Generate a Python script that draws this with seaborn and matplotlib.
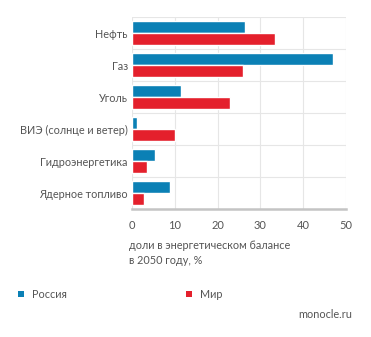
import matplotlib
matplotlib.use("Agg")
import matplotlib.pyplot as plt
from matplotlib.patches import Rectangle
import seaborn as sns
import pandas as pd

categories = ["Нефть", "Газ", "Уголь", "ВИЭ (солнце и ветер)", "Гидроэнергетика", "Ядерное топливо"]
russia = [26.4, 47.0, 11.5, 1.2, 5.4, 8.9]
world = [33.3, 26.0, 22.8, 10.0, 3.6, 2.8]
series = ["Россия", "Мир"]
xticks = [0, 10, 20, 30, 40, 50]

BLUE = "#0b80b5"
RED = "#e4202c"
TEXT = "#555555"
GRID = "#e6e6e6"

df = pd.DataFrame({
    "cat": categories * 2,
    "val": russia + world,
    "series": [series[0]] * len(categories) + [series[1]] * len(categories),
})

sns.set_theme(style="white")
plt.rcParams["font.family"] = ["Lato", "DejaVu Sans"]

fig = plt.figure(figsize=(3.71, 3.37), dpi=100)
ax = fig.add_axes([132 / 371, 1 - 209 / 337, (346 - 132) / 371, (209 - 17) / 337])

sns.barplot(data=df, y="cat", x="val", hue="series", order=categories,
            hue_order=series, palette=[BLUE, RED], width=0.76, orient="h",
            saturation=1, legend=False, ax=ax, errorbar=None)

ax.set_xlim(0, 50)
ax.set_ylim(5.5, -0.5)
ax.set_xticks(xticks)
ax.set_xticklabels([str(t) for t in xticks], fontsize=8, color=TEXT)
ax.set_yticks(range(len(categories)))
ax.set_yticklabels(categories, fontsize=7.8, color=TEXT)
ax.set_yticks([i - 0.5 for i in range(len(categories) + 1)], minor=True)
ax.grid(True, axis="x", which="major", color=GRID, lw=0.8)
ax.grid(True, axis="y", which="minor", color=GRID, lw=0.8)
ax.grid(False, axis="y", which="major")
ax.set_axisbelow(True)
ax.tick_params(axis="y", which="both", length=0, pad=3)
ax.tick_params(axis="x", which="major", length=3, width=0.8, color="#bbbbbb", pad=5, direction="out")
ax.tick_params(axis="x", which="minor", length=0)
for s in ["top", "right", "left"]:
    ax.spines[s].set_visible(False)
ax.spines["bottom"].set_color("#c4c4c4")
ax.spines["bottom"].set_linewidth(1.8)
ax.set_xlabel("")
ax.set_ylabel("")

fig.text(129 / 371, 1 - 253 / 337, "доли в энергетическом балансе\nв 2050 году, %",
         fontsize=7.8, color=TEXT, ha="left", va="center", linespacing=1.35)

# legend
for x0, col, lab in [(18, BLUE, series[0]), (186, RED, series[1])]:
    fig.add_artist(Rectangle((x0 / 371, 1 - 297 / 337), 6 / 371, 6 / 337,
                             transform=fig.transFigure, color=col, lw=0))
    fig.text((x0 + 14) / 371, 1 - 294 / 337, lab, fontsize=7.8, color=TEXT,
             ha="left", va="center")

fig.text(352 / 371, 1 - 315 / 337, "monocle.ru", fontsize=7.8, color=TEXT,
         ha="right", va="center")

fig.savefig("out.png", dpi=100, facecolor="white")
